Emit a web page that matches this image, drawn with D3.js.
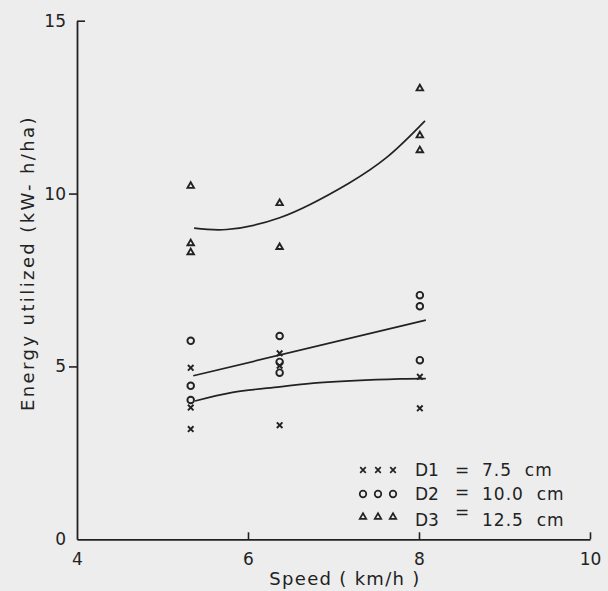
<!DOCTYPE html>
<html>
<head>
<meta charset="utf-8">
<script src="https://cdn.jsdelivr.net/npm/d3@7"></script>
<style>
  body { margin: 0; background: #ececec; }
  svg { display: block; font-family: "DejaVu Sans", sans-serif; }
  .pre { white-space: pre; }
</style>
</head>
<body>
<script>
// speeds of the three groups of runs (km/h)
const groupSpeeds = [5.33, 6.37, 8.01];

// energy readings per group, one array per depth
const d1Energy = [[4.96, 3.81, 3.19], [5.38, 5.02, 3.30], [4.70, 3.79]];
const d2Energy = [[5.74, 4.44, 4.03], [5.88, 5.13, 4.82], [7.06, 6.74, 5.18]];
const d3Energy = [[10.22, 8.56, 8.30], [9.72, 8.45], [13.04, 11.68, 11.25]];

// fitted curves
const d1FitSpeed = [5.38, 5.82, 6.37, 6.84, 7.78, 8.08];
const d1FitEnergy = [4.00, 4.25, 4.41, 4.53, 4.64, 4.65];
const d2FitSpeed = [5.36, 8.08];
const d2FitEnergy = [4.73, 6.34];
const d3FitSpeed = [5.37, 5.75, 6.37, 7.18, 7.63, 8.07];
const d3FitEnergy = [9.00, 8.96, 9.30, 10.30, 11.06, 12.10];

const xTicks = [4, 6, 8, 10];
const yTicks = [0, 5, 10, 15];
const legendNames = ["D1", "D2", "D3"];
const legendValues = ["7.5  cm", "10.0  cm", "12.5  cm"];

const w = 608, h = 591;
const ink = "#222";

const svg = d3.select("body").append("svg")
  .attr("width", w)
  .attr("height", h);

svg.append("rect").attr("width", w).attr("height", h).attr("fill", "#ededed");

const x = d3.scaleLinear().domain([4, 10]).range([77, 590]);
const y = d3.scaleLinear().domain([0, 15]).range([539.3, 20.7]);

// x axis, ticks pointing up, none at the origin
const xAxis = svg.append("g")
  .attr("transform", "translate(0," + y(0) + ")")
  .call(d3.axisBottom(x).tickValues(xTicks).tickFormat(d3.format("d"))
    .tickSize(-7).tickPadding(14).tickSizeOuter(0));
xAxis.select(".domain").attr("stroke", ink).attr("stroke-width", 1.8);
xAxis.selectAll(".tick line").attr("stroke", ink).attr("stroke-width", 1.6)
  .filter(d => d === 4).remove();
xAxis.selectAll(".tick text").attr("fill", ink).attr("font-size", 17)
  .attr("font-family", "DejaVu Sans");

// y axis, 5 and 10 ticks to the left, 15 to the right
const yAxis = svg.append("g")
  .attr("transform", "translate(" + x(4) + ",0)")
  .call(d3.axisLeft(y).tickValues(yTicks).tickFormat(d3.format("d"))
    .tickSize(8).tickPadding(3).tickSizeOuter(0));
yAxis.select(".domain").attr("stroke", ink).attr("stroke-width", 1.8);
yAxis.selectAll(".tick line").attr("stroke", ink).attr("stroke-width", 1.6);
yAxis.selectAll(".tick line").filter(d => d === 15).attr("x2", 8);
yAxis.selectAll(".tick line").filter(d => d === 0).remove();
yAxis.selectAll(".tick text").attr("fill", ink).attr("font-size", 17)
  .attr("font-family", "DejaVu Sans");

// axis titles
svg.append("text")
  .attr("x", 345)
  .attr("y", 585)
  .attr("text-anchor", "middle")
  .attr("font-size", 18)
  .attr("letter-spacing", 1.3)
  .attr("fill", ink)
  .text("Speed ( km/h )");

svg.append("text")
  .attr("transform", "translate(34,263) rotate(-90)")
  .attr("text-anchor", "middle")
  .attr("font-size", 18)
  .attr("letter-spacing", 2.4)
  .attr("fill", ink)
  .text("Energy utilized (kW- h/ha)");

// fitted curves
const line = d3.line()
  .x(d => x(d[0]))
  .y(d => y(d[1]))
  .curve(d3.curveCatmullRom.alpha(0.5));

[[d1FitSpeed, d1FitEnergy], [d2FitSpeed, d2FitEnergy], [d3FitSpeed, d3FitEnergy]]
  .forEach(([sp, en]) => {
    svg.append("path")
      .datum(sp.map((s, i) => [s, en[i]]))
      .attr("d", line)
      .attr("fill", "none")
      .attr("stroke", ink)
      .attr("stroke-width", 1.7);
  });

// markers
const shapes = [
  d3.symbol().type(d3.symbolTimes).size(22),
  d3.symbol().type(d3.symbolCircle).size(34),
  d3.symbol().type(d3.symbolTriangle2).size(30)
];

function flatten(groups) {
  const out = [];
  groups.forEach((vals, g) => vals.forEach(v => out.push([groupSpeeds[g], v])));
  return out;
}

[d1Energy, d2Energy, d3Energy].forEach((groups, k) => {
  svg.append("g").selectAll("path")
    .data(flatten(groups))
    .enter()
    .append("path")
    .attr("d", shapes[k]())
    .attr("transform", d => "translate(" + x(d[0]) + "," + y(d[1]) + ")")
    .attr("fill", "none")
    .attr("stroke", ink)
    .attr("stroke-width", 1.9);
});

// legend
const legendRowY = [476, 500, 526];
const legendSymbolY = [470, 494, 517];
const legendSymbolX = [363, 378, 393];

legendNames.forEach((name, k) => {
  legendSymbolX.forEach(sx => {
    svg.append("path")
      .attr("d", shapes[k]())
      .attr("transform", "translate(" + sx + "," + legendSymbolY[k] + ")")
      .attr("fill", "none")
      .attr("stroke", ink)
      .attr("stroke-width", 1.7);
  });
  svg.append("text")
    .attr("x", 415)
    .attr("y", legendRowY[k])
    .attr("font-size", 17)
    .attr("fill", ink)
    .text(name);
  svg.append("text")
    .attr("x", 462)
    .attr("y", legendRowY[k] - (k === 2 ? 8 : k === 1 ? 2 : 0))
    .attr("text-anchor", "middle")
    .attr("font-size", 17)
    .attr("fill", ink)
    .text("=");
  svg.append("text")
    .attr("class", "pre")
    .attr("x", 482)
    .attr("y", legendRowY[k])
    .attr("font-size", 17)
    .attr("letter-spacing", 1)
    .attr("fill", ink)
    .text(legendValues[k]);
});
</script>
</body>
</html>
